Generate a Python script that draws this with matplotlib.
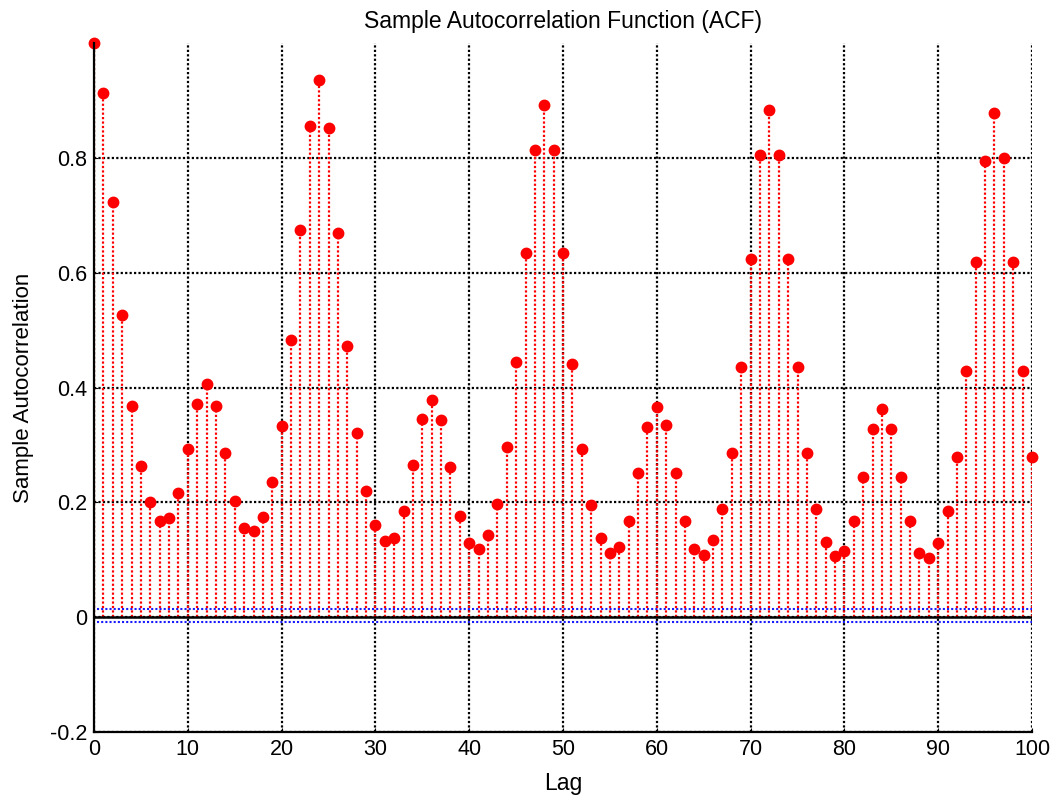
import matplotlib
matplotlib.use('Agg')
import matplotlib.pyplot as plt
import numpy as np

plt.rcParams['font.family'] = ['Liberation Sans', 'DejaVu Sans']

# sample autocorrelation, lags 0..100
lags = np.arange(0, 101)
acf = [
    1.000, 0.913, 0.724, 0.527, 0.368, 0.264, 0.201, 0.168, 0.172, 0.216,
    0.293, 0.372, 0.407, 0.368, 0.286, 0.203, 0.156, 0.150, 0.174, 0.236,
    0.333, 0.482, 0.675, 0.855, 0.935, 0.852, 0.670, 0.473, 0.321, 0.220,
    0.161, 0.132, 0.138, 0.185, 0.265, 0.346, 0.378, 0.343, 0.261, 0.177,
    0.129, 0.118, 0.143, 0.197, 0.296, 0.444, 0.635, 0.814, 0.893, 0.814,
    0.635, 0.441, 0.293, 0.196, 0.138, 0.111, 0.122, 0.168, 0.251, 0.331,
    0.366, 0.334, 0.251, 0.168, 0.118, 0.109, 0.135, 0.189, 0.286, 0.436,
    0.624, 0.805, 0.884, 0.805, 0.624, 0.436, 0.286, 0.189, 0.131, 0.106,
    0.116, 0.167, 0.244, 0.328, 0.362, 0.328, 0.244, 0.167, 0.111, 0.103,
    0.129, 0.185, 0.279, 0.429, 0.619, 0.795, 0.879, 0.799, 0.619, 0.429,
    0.279,
]
bounds = [0.014, -0.008]

x_ticks = [0, 10, 20, 30, 40, 50, 60, 70, 80, 90, 100]
y_ticks = [-0.2, 0, 0.2, 0.4, 0.6, 0.8]
y_tick_labels = ['-0.2', '0', '0.2', '0.4', '0.6', '0.8']

dots = (0, (1, 1))

fig = plt.figure(figsize=(10.52, 7.98), dpi=100)
ax = fig.add_axes([0.0894, 0.0827, 0.8916, 0.8633])

markerline, stemlines, baseline = ax.stem(lags, acf, linefmt='r:', markerfmt='ro', basefmt='k-')
markerline.set_markersize(7.5)
markerline.set_clip_on(False)
stemlines.set_linestyle(dots)
stemlines.set_linewidth(1.6)
baseline.set_linewidth(1.8)

for b in bounds:
    ax.axhline(b, xmin=0.003, color='#1a1aff', linestyle=dots, linewidth=1.5)

ax.set_xlim(0, 100)
ax.set_ylim(-0.2, 1.0)
ax.set_xticks(x_ticks)
ax.set_yticks(y_ticks)
ax.set_yticklabels(y_tick_labels)
ax.tick_params(direction='in', length=3, labelsize=15.5, pad=5)

ax.grid(True, color='black', linestyle=dots, linewidth=1.6)
ax.set_axisbelow(True)
for side in ['top', 'right']:
    ax.spines[side].set_visible(False)
for side in ['left', 'bottom']:
    ax.spines[side].set_linestyle(dots)
    ax.spines[side].set_linewidth(1.6)

ax.set_title('Sample Autocorrelation Function (ACF)', fontsize=16.5, pad=11)
ax.set_xlabel('Lag', fontsize=16.5, labelpad=9)
ax.set_ylabel('Sample Autocorrelation', fontsize=16, labelpad=11)

plt.savefig('out.png', dpi=100)
plt.close()
